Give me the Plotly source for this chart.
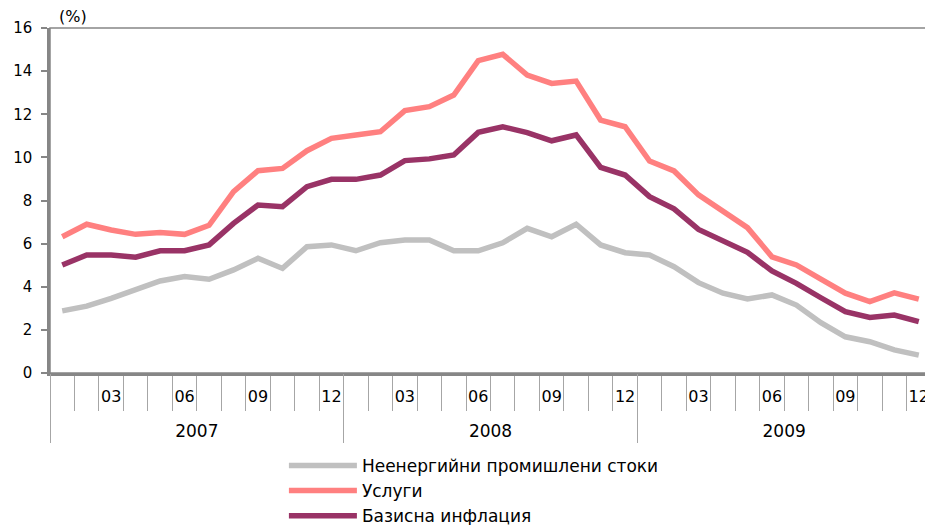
import plotly.graph_objects as go

years = ['2007', '2008', '2009']
months = ['01', '02', '03', '04', '05', '06', '07', '08', '09', '10', '11', '12']
shown_months = ['03', '06', '09', '12']

goods = [2.88, 3.10, 3.46, 3.85, 4.27, 4.47, 4.35, 4.78, 5.32, 4.85, 5.86, 5.94,
         5.67, 6.04, 6.17, 6.17, 5.67, 5.67, 6.04, 6.71, 6.32, 6.90, 5.94, 5.58,
         5.47, 4.93, 4.19, 3.70, 3.43, 3.62, 3.15, 2.33, 1.68, 1.45, 1.07, 0.83]
services = [6.32, 6.90, 6.63, 6.43, 6.52, 6.43, 6.85, 8.41, 9.38, 9.49, 10.31, 10.88,
            11.04, 11.19, 12.17, 12.35, 12.89, 14.49, 14.78, 13.82, 13.43, 13.54, 11.73, 11.42,
            9.83, 9.37, 8.26, 7.48, 6.74, 5.39, 5.01, 4.35, 3.70, 3.31, 3.72, 3.43]
core = [5.01, 5.47, 5.47, 5.37, 5.67, 5.67, 5.94, 6.94, 7.79, 7.71, 8.64, 8.98,
        8.98, 9.18, 9.85, 9.93, 10.11, 11.16, 11.42, 11.15, 10.77, 11.04, 9.54, 9.18,
        8.18, 7.61, 6.66, 6.14, 5.60, 4.73, 4.16, 3.49, 2.84, 2.58, 2.69, 2.38]

names = ['Неенергийни промишлени стоки', 'Услуги', 'Базисна инфлация']
colors = ['#C0C0C0', '#FF8080', '#993366']

cats = [y + '-' + m for y in years for m in months]
cat_text = [c[-2:] if c[-2:] in shown_months else '' for c in cats]

fig = go.Figure()
for name, vals, col in zip(names, [goods, services, core], colors):
    fig.add_trace(go.Scatter(x=cats, y=vals, name=name, mode='lines',
                             line=dict(color=col, width=5.5)))
# empty trace so the year axis gets drawn
fig.add_trace(go.Scatter(x=years, y=[None] * len(years), xaxis='x2',
                         showlegend=False, hoverinfo='skip'))

# page body has an 8px margin, so the figure is 8px smaller than the window
fig.update_layout(
    width=925, height=517,
    margin=dict(l=42, r=2, t=20, b=152, autoexpand=False),
    paper_bgcolor='white', plot_bgcolor='white',
    font=dict(family='DejaVu Sans', color='black', size=15),
    showlegend=True,
    legend=dict(x=0.2655, y=0.149, xanchor='left', yanchor='top', yref='container',
                font=dict(size=17), itemwidth=68, tracegroupgap=0),
    xaxis=dict(type='category', categoryorder='array', categoryarray=cats,
               range=[-0.5, len(cats) - 0.5],
               tickmode='array', tickvals=cats, ticktext=cat_text, tickangle=0,
               tickson='boundaries', ticks='outside', ticklen=35,
               tickcolor='#A6A6A6', tickwidth=1, ticklabelstandoff=7,
               tickfont=dict(size=16), showgrid=False, zeroline=False,
               showline=True, linecolor='#868686', linewidth=2.5, automargin=False),
    xaxis2=dict(type='category', overlaying='x', anchor='y', side='bottom',
                categoryorder='array', categoryarray=years, range=[-0.5, 2.5],
                tickmode='array', tickvals=years, tickson='boundaries', tickangle=0,
                ticks='outside', ticklen=69, tickcolor='#A6A6A6', tickwidth=1,
                ticklabelstandoff=46, tickfont=dict(size=17), automargin=False,
                showgrid=False, zeroline=False, showline=False),
    yaxis=dict(range=[0, 16], tickvals=list(range(0, 17, 2)), ticks='outside',
               ticklen=6, tickcolor='#868686', tickwidth=2, showgrid=False,
               zeroline=False, showline=True, linecolor='#868686', linewidth=2.5,
               ticklabelstandoff=6, automargin=False),
    shapes=[dict(type='rect', xref='paper', yref='paper', x0=0, x1=1, y0=0, y1=1,
                 line=dict(color='#868686', width=1.5))],
    annotations=[dict(text='(%)', xref='paper', yref='paper', x=0.008, y=1.0,
                      xanchor='left', yanchor='bottom', showarrow=False,
                      font=dict(size=16))],
)

fig.write_html('out.html')
